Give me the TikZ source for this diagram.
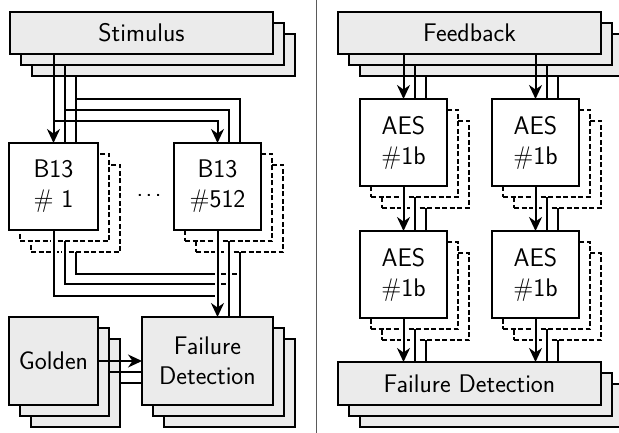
\documentclass[tikz,border=0pt]{standalone}
\usetikzlibrary{arrows.meta}
\definecolor{boxgray}{RGB}{235,235,235}
\definecolor{rulegray}{RGB}{90,90,90}
\begin{document}
\begin{tikzpicture}[x=1pt,y=-1pt,
  box/.style={rectangle, inner sep=0pt, outer sep=0pt, line width=1.6pt, draw=black,
    align=center, font=\sffamily\fontsize{25.5}{30}\selectfont},
  greybox/.style={box, fill=boxgray},
  whitebox/.style={box, fill=white},
  ghostbox/.style={box, fill=white, dash pattern=on 5pt off 2.5pt},
  banner/.style={minimum width=263pt, minimum height=42pt},
  unit/.style={minimum width=89pt, minimum height=87pt},
  wire/.style={line width=2pt},
  arrowwire/.style={wire, -{Stealth[length=14pt,width=13pt,inset=4.5pt]}},
  halo/.style={preaction={draw=white, line width=6pt, -, shorten <=1pt, shorten >=1pt}},
]
\useasboundingbox (0,0) rectangle (619,433);
\clip (0,0) rectangle (619,433);

% ---------------- left half: parallel B13 copies ----------------
% stimulus generator (three stacked copies)
\node[greybox, banner] (stimC) at (163.5,55) {};
\node[greybox, banner] (stimB) at (152.5,44) {};
\node[greybox, banner] (stim)  at (141.5,33) {Stimulus};

% first B13 instance with its shadow copies
\node[ghostbox, unit] (b1c) at (75.5,208.5) {};
\node[ghostbox, unit] (b1b) at (64.5,197.5) {};
\node[whitebox, unit] (b1)  at (53.5,186.5) {B13\\\# 1};

% last B13 instance with its shadow copies
\node[ghostbox, unit, minimum width=87pt] (bNc) at (239.5,208.5) {};
\node[ghostbox, unit, minimum width=87pt] (bNb) at (228.5,197.5) {};
\node[whitebox, unit, minimum width=87pt] (bN)  at (217.5,186.5) {B13\\\#512};

\node[inner sep=0pt, font=\sffamily\fontsize{25.5}{30}\selectfont] (gap) at (149,195)
  {.\kern2.5pt.\kern2.5pt.};

% golden model
\node[greybox, unit, minimum height=88pt] (goldC) at (75.5,383) {};
\node[greybox, unit, minimum height=88pt] (goldB) at (64.5,372) {};
\node[greybox, unit, minimum height=88pt] (gold)  at (53.5,361) {Golden};

% failure detection (left)
\node[greybox, minimum width=131pt, minimum height=88pt] (fdlC) at (229.5,383) {};
\node[greybox, minimum width=131pt, minimum height=88pt] (fdlB) at (218.5,372) {};
\node[greybox, minimum width=131pt, minimum height=88pt] (fdl)  at (207.5,361) {Failure\\Detection};

% routing rows
\coordinate (upA) at (0,121);
\coordinate (upB) at (0,110);
\coordinate (upC) at (0,99);
\coordinate (loA) at (0,296);
\coordinate (loB) at (0,284);
\coordinate (loC) at (0,274);

% stimulus fan-out
\draw[arrowwire] (stim.south -| b1.north) -- (b1.north);
\draw[wire] (stimB.south -| b1b.north) -- (b1b.north |- b1.north);
\draw[wire] (stimC.south -| b1c.north) -- (b1c.north |- b1.north);
\draw[arrowwire] (b1.north |- upA) -| (bN.north);
\draw[wire] (b1b.north |- upB) -| (bNb.north |- bN.north);
\draw[wire] (b1c.north |- upC) -| (bNc.north |- bN.north);

% outputs towards failure detection
\draw[wire, halo] (b1.south) |- (bN.south |- loA);
\draw[wire, halo] (b1b.south) |- (bNb.south |- loB);
\draw[wire, halo] (b1c.south) |- (bNc.south |- loC);
\draw[arrowwire, halo] (bN.south) -- (bN.south |- fdl.north);
\draw[wire, halo] (bNb.south) -- (bNb.south |- fdl.north);
\draw[wire, halo] (bNc.south) -- (bNc.south |- fdl.north);

% golden reference outputs
\draw[arrowwire] (gold.east) -- (gold.east -| fdl.west);
\draw[wire] (goldB.east) -- (goldB.east -| fdl.west);
\draw[wire] (goldC.east) -- (goldC.east -| fdl.west);

% separator
\draw[rulegray, line width=1pt] (316,0) -- (316,433);

% ---------------- right half: chained AES copies ----------------
\node[greybox, banner] (fbC) at (491.5,55) {};
\node[greybox, banner] (fbB) at (480.5,44) {};
\node[greybox, banner] (fb)  at (469.5,33) {Feedback};

\foreach \n/\cx/\cy in {a1/403.5/142.5, a2/535.5/142.5, a3/403.5/274.5, a4/535.5/274.5}{
  \node[ghostbox, unit, minimum width=87pt] (\n c) at (\cx+22,\cy+22) {};
  \node[ghostbox, unit, minimum width=87pt] (\n b) at (\cx+11,\cy+11) {};
  \node[whitebox, unit, minimum width=87pt] (\n)   at (\cx,\cy) {AES\\\#1b};
}

\node[greybox, banner, minimum height=43pt] (fdrC) at (491.5,405.5) {};
\node[greybox, banner, minimum height=43pt] (fdrB) at (480.5,394.5) {};
\node[greybox, banner, minimum height=43pt] (fdr)  at (469.5,383.5) {Failure Detection};

\foreach \n in {a1,a2}{
  \draw[arrowwire] (fb.south -| \n.north) -- (\n.north);
  \draw[wire] (fbB.south -| \n b.north) -- (\n b.north |- \n.north);
  \draw[wire] (fbC.south -| \n c.north) -- (\n c.north |- \n.north);
}
\foreach \s/\t in {a1/a3, a2/a4}{
  \draw[arrowwire, halo] (\s.south) -- (\t.north);
  \draw[wire, halo] (\s b.south) -- (\s b.south |- \t.north);
  \draw[wire, halo] (\s c.south) -- (\s c.south |- \t.north);
}
\foreach \n in {a3,a4}{
  \draw[arrowwire, halo] (\n.south) -- (\n.south |- fdr.north);
  \draw[wire, halo] (\n b.south) -- (\n b.south |- fdr.north);
  \draw[wire, halo] (\n c.south) -- (\n c.south |- fdr.north);
}
\end{tikzpicture}
\end{document}
